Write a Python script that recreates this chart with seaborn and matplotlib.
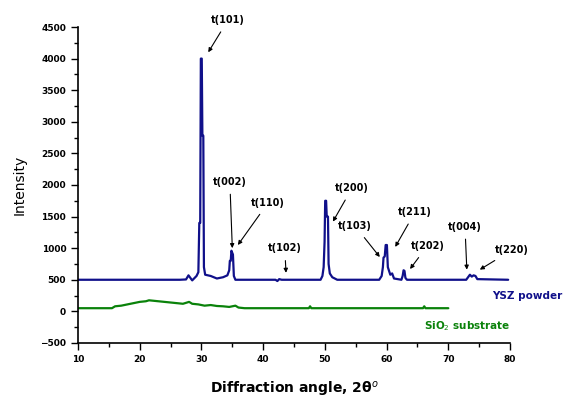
import pandas as pd
import seaborn as sns
import matplotlib.pyplot as plt
from matplotlib.ticker import MultipleLocator

# YSZ powder pattern (2theta, intensity)
ysz_angle = [10.0, 26.5, 27.5, 27.9, 28.2, 28.5, 28.8, 29.2, 29.5, 29.65, 29.8,
             29.9, 30.05, 30.15, 30.3, 30.4, 30.6, 31.5, 32.5, 33.5, 34.2, 34.5,
             34.6, 34.75, 34.85, 35.1, 35.25, 35.5, 42.0, 42.3, 42.6, 43.0, 49.3,
             49.6, 49.8, 49.95, 50.05, 50.2, 50.3, 50.5, 50.6, 50.8, 51.2, 52.0,
             58.8, 59.2, 59.4, 59.5, 59.7, 59.85, 60.05, 60.2, 60.4, 60.6, 60.9,
             61.2, 62.4, 62.6, 62.75, 62.9, 63.05, 63.3, 72.9, 73.2, 73.5, 73.8,
             74.1, 74.4, 74.7, 79.7]
ysz_int = [500, 500, 505, 570, 530, 490, 520, 560, 620, 1400, 1400,
           4000, 4000, 2780, 2780, 700, 580, 560, 520, 540, 570, 650,
           800, 800, 960, 900, 560, 500, 500, 480, 510, 500, 500,
           560, 700, 1100, 1750, 1750, 1500, 1500, 750, 600, 540, 500,
           500, 560, 700, 850, 870, 1050, 1050, 700, 640, 580, 600,
           520, 500, 560, 650, 640, 530, 500, 500, 540, 580, 550,
           570, 560, 510, 500]

# SiO2 substrate
sio2_angle = [10, 15.5, 16, 17, 18, 19, 20, 21, 21.5, 22, 22.5, 23, 24, 25, 26,
              27, 28, 28.5, 29.5, 30.5, 31.5, 32.5, 33.5, 34.5, 35.5, 36, 37,
              47.4, 47.6, 47.8, 65.9, 66.1, 66.3, 70]
sio2_int = [50, 50, 80, 90, 110, 130, 150, 160, 175, 170, 165, 160, 150, 140, 130,
            120, 150, 120, 110, 90, 100, 85, 80, 70, 90, 60, 50,
            50, 80, 50, 50, 80, 50, 50]

# peak labels: text, peak position, text position
peak_labels = ['t(101)', 't(002)', 't(110)', 't(102)', 't(200)',
               't(103)', 't(211)', 't(202)', 't(004)', 't(220)']
peak_xy = [(31.1, 4100), (35.0, 1000), (35.9, 1050), (43.7, 610), (51.3, 1420),
           (58.9, 860), (61.4, 1020), (63.8, 670), (73.0, 660), (75.1, 660)]
label_xy = [(34.3, 4610), (34.6, 2050), (40.8, 1720), (43.5, 1000), (54.4, 1950),
            (54.9, 1350), (64.6, 1570), (66.6, 1035), (72.7, 1340), (80.3, 970)]

ysz = pd.DataFrame({'angle': ysz_angle, 'intensity': ysz_int})
sio2 = pd.DataFrame({'angle': sio2_angle, 'intensity': sio2_int})

sns.set_style('ticks', {'axes.edgecolor': 'black', 'xtick.color': 'black',
                        'ytick.color': 'black', 'text.color': 'black',
                        'axes.labelcolor': 'black'})
plt.rcParams['font.family'] = ['DejaVu Sans']

fig = plt.figure(figsize=(5.75, 4.03), dpi=100)
ax = fig.add_axes([0.1357, 0.149, 0.7513, 0.784])

sns.lineplot(data=ysz, x='angle', y='intensity', color='#10108a', lw=1.6, ax=ax)
sns.lineplot(data=sio2, x='angle', y='intensity', color='#0a820a', lw=1.6, ax=ax)

for lab, xy, txy in zip(peak_labels, peak_xy, label_xy):
    ax.annotate(lab, xy=xy, xytext=txy, ha='center', va='center',
                fontsize=7, fontweight='bold', color='black',
                arrowprops=dict(arrowstyle='-|>', color='black', lw=0.8,
                                mutation_scale=6, shrinkA=3, shrinkB=0))

ax.text(82.8, 245, 'YSZ powder', color='#10108a', fontsize=7.5,
        fontweight='bold', ha='center', va='center')
ax.text(73.0, -230, 'SiO$_2$ substrate', color='#0a820a', fontsize=7.5,
        fontweight='bold', ha='center', va='center')

ax.set_xlim(10, 80)
ax.set_ylim(-500, 4500)
ax.xaxis.set_major_locator(MultipleLocator(10))
ax.xaxis.set_minor_locator(MultipleLocator(5))
ax.yaxis.set_major_locator(MultipleLocator(500))
ax.yaxis.set_minor_locator(MultipleLocator(250))
ax.tick_params(which='major', length=5, width=1, labelsize=6.5, direction='out',
               colors='black')
ax.tick_params(which='minor', length=3, width=1, direction='out', colors='black')
for t in ax.get_xticklabels() + ax.get_yticklabels():
    t.set_fontweight('bold')
sns.despine(ax=ax)
ax.spines['left'].set_linewidth(1.2)
ax.spines['bottom'].set_linewidth(1.2)

ax.set_xlabel('Diffraction angle, 2θ$^{o}$', fontsize=10, fontweight='bold',
              labelpad=12, color='black')
ax.set_ylabel('Intensity', fontsize=10, labelpad=10, color='black')

fig.savefig('out.png', dpi=100)
